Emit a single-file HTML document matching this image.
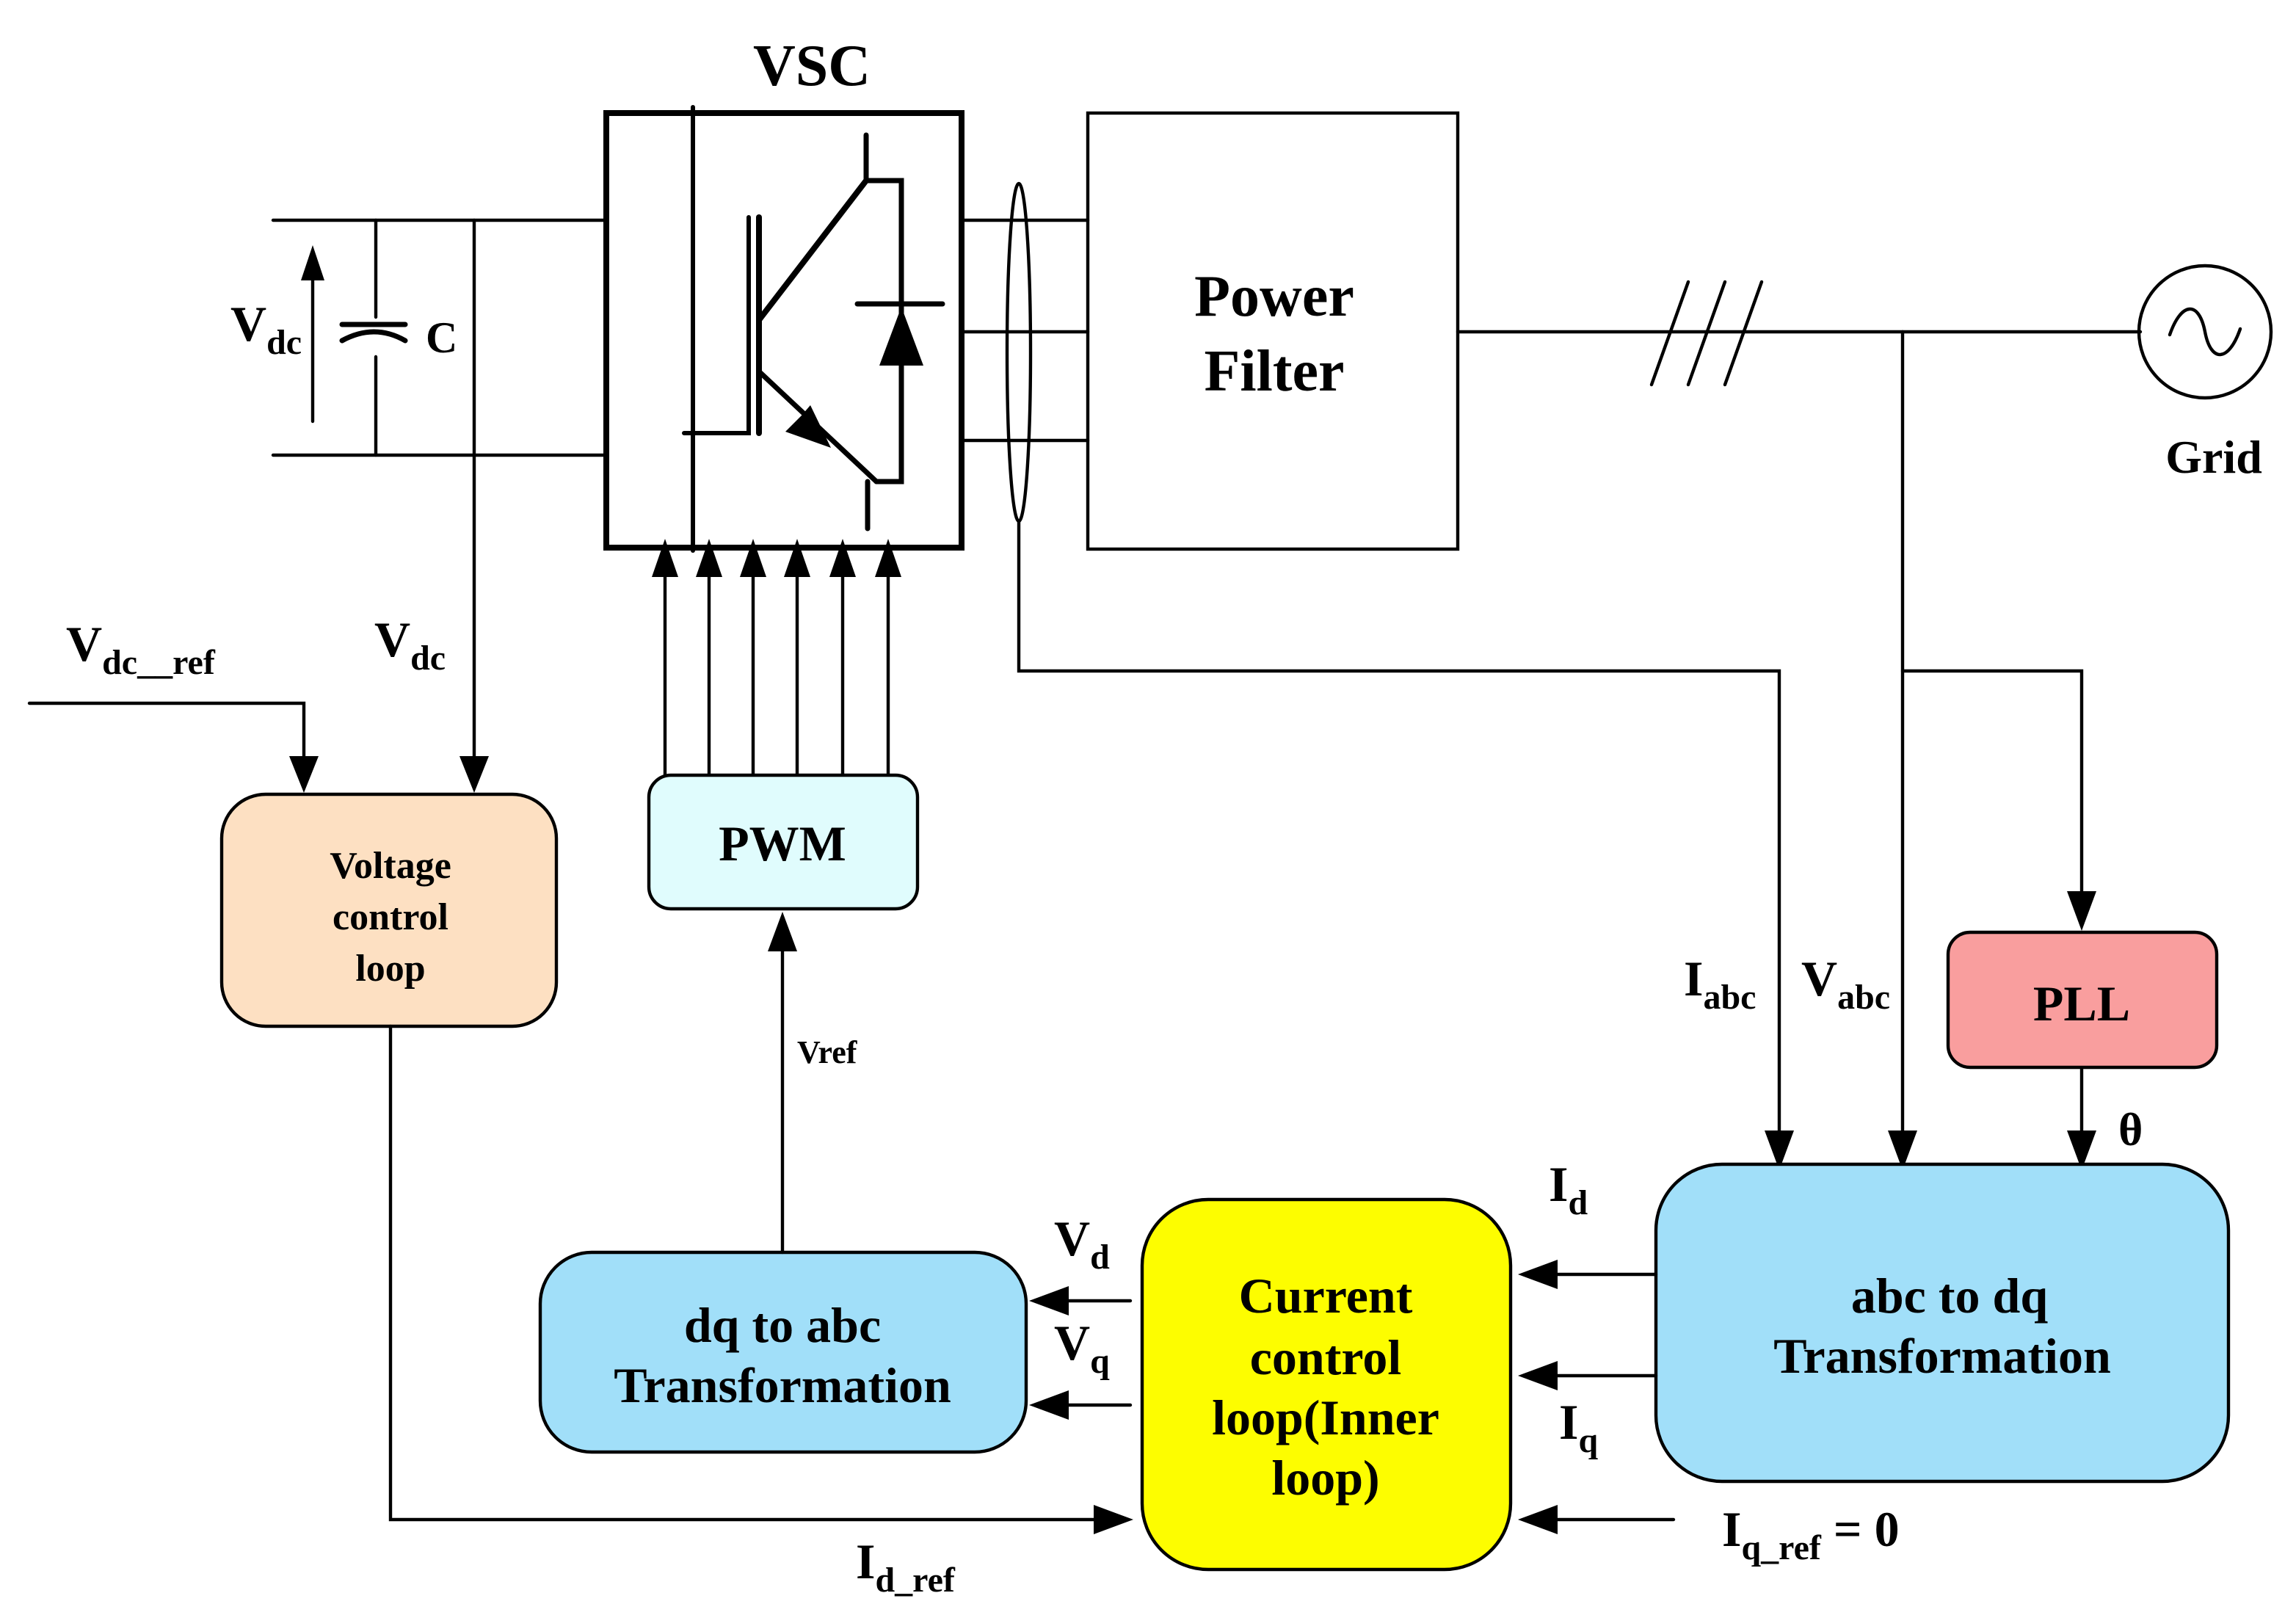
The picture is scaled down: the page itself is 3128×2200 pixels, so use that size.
<!DOCTYPE html>
<html><head><meta charset="utf-8"><style>html,body{margin:0;padding:0;background:#fff}svg{display:block}</style></head>
<body>
<svg width="3128" height="2200" viewBox="0 0 1564 1100" xmlns="http://www.w3.org/2000/svg">
<defs>
<marker id="a" viewBox="0 0 10 10" refX="10" refY="5" markerWidth="10" markerHeight="10" markerUnits="userSpaceOnUse" orient="auto"><path d="M0,0 L10,5 L0,10 z" fill="#000"/></marker>
</defs>
<g fill="none" stroke="#000" stroke-width="2.2" stroke-linecap="round">
<!-- DC side -->
<line x1="186" y1="150" x2="413" y2="150"/>
<line x1="186" y1="310" x2="413" y2="310"/>
<line x1="256" y1="150" x2="256" y2="216"/>
<line x1="233" y1="221" x2="276" y2="221" stroke-width="3.5"/>
<path d="M233,232 Q255,220 276,232" stroke-width="3.5"/>
<line x1="256" y1="243" x2="256" y2="310"/>
<line x1="213" y1="287" x2="213" y2="190"/>
<path d="M213,167 L205,191 L221,191 z" fill="#000" stroke="none"/>
<!-- Vdc feedback -->
<path d="M323,150 V520"/>
<path d="M323,540 L313,515 L333,515 z" fill="#000" stroke="none"/>
<path d="M20,479 H207 V520"/>
<path d="M207,540 L197,515 L217,515 z" fill="#000" stroke="none"/>
<!-- VSC -->
<rect x="413" y="77" width="242" height="296" stroke-width="4" stroke-linecap="butt"/>
<line x1="472" y1="73" x2="472" y2="375" stroke-width="3"/>
<path d="M466,295 H510 V148" stroke-width="3"/>
<line x1="517" y1="148" x2="517" y2="295" stroke-width="4"/>
<path d="M517,218 L590,123" stroke-width="4"/>
<line x1="590" y1="92" x2="590" y2="123" stroke-width="3.5"/>
<path d="M590,123 H614 V328 H597" stroke-width="3.5"/>
<line x1="584" y1="207" x2="642" y2="207" stroke-width="3.5"/>
<path d="M614,209 L599,249 L629,249 z" fill="#000" stroke="none"/>
<path d="M517,253 L597,328" stroke-width="3.5"/>
<path d="M566,305 L535,294 L546,283 L 552,276 z" fill="#000" stroke="none"/>
<line x1="591" y1="328" x2="591" y2="360" stroke-width="3.5"/>
<!-- PWM arrows -->
<g>
<line x1="453" y1="528" x2="453" y2="390"/><line x1="483" y1="528" x2="483" y2="390"/><line x1="513" y1="528" x2="513" y2="390"/><line x1="543" y1="528" x2="543" y2="390"/><line x1="574" y1="528" x2="574" y2="390"/><line x1="605" y1="528" x2="605" y2="390"/>
</g>
<g fill="#000" stroke="none">
<path d="M453,367 L444,393 L462,393z"/><path d="M483,367 L474,393 L492,393z"/><path d="M513,367 L504,393 L522,393z"/><path d="M543,367 L534,393 L552,393z"/><path d="M574,367 L565,393 L583,393z"/><path d="M605,367 L596,393 L614,393z"/>
</g>
<!-- AC out -->
<line x1="655" y1="150" x2="741" y2="150"/>
<line x1="655" y1="226" x2="741" y2="226"/>
<line x1="655" y1="300" x2="741" y2="300"/>
<ellipse cx="694" cy="240" rx="8" ry="115"/>
<path d="M694,355 V457 H1212 V775"/>
<path d="M1212,797 L1202,770 L1222,770 z" fill="#000" stroke="none"/>
<rect x="741" y="77" width="252" height="297"/>
<line x1="993" y1="226" x2="1458" y2="226"/>
<line x1="1125" y1="262" x2="1150" y2="192"/>
<line x1="1150" y1="262" x2="1175" y2="192"/>
<line x1="1175" y1="262" x2="1200" y2="192"/>
<circle cx="1502" cy="226" r="45"/>
<path d="M1478,228 C1486,205 1498,205 1502,226 C1506,247 1518,247 1526,224"/>
<path d="M1296,226 V775"/>
<path d="M1296,797 L1286,770 L1306,770 z" fill="#000" stroke="none"/>
<path d="M1296,457 H1418 V612"/>
<path d="M1418,634 L1408,607 L1428,607 z" fill="#000" stroke="none"/>
<line x1="1418" y1="727" x2="1418" y2="775"/>
<path d="M1418,797 L1408,770 L1428,770 z" fill="#000" stroke="none"/>
<!-- Boxes -->
<rect x="151" y="541" width="228" height="158" rx="30" fill="#fde0c2"/>
<rect x="442" y="528" width="183" height="91" rx="15" fill="#e0fcfd"/>
<rect x="1327" y="635" width="183" height="92" rx="15" fill="#f99e9e"/>
<rect x="1128" y="793" width="390" height="216" rx="45" fill="#a1dff9"/>
<rect x="778" y="817" width="251" height="252" rx="45" fill="#fdfd00"/>
<rect x="368" y="853" width="331" height="136" rx="35" fill="#a1dff9"/>
<!-- Vref -->
<line x1="533" y1="853" x2="533" y2="645"/>
<path d="M533,621 L523,648 L543,648 z" fill="#000" stroke="none"/>
<!-- Id_ref -->
<path d="M266,699 V1035 H750"/>
<path d="M772,1035 L745,1025 L745,1045 z" fill="#000" stroke="none"/>
<!-- abc->current -->
<line x1="1128" y1="868" x2="1058" y2="868"/>
<path d="M1034,868 L1061,858 L1061,878 z" fill="#000" stroke="none"/>
<line x1="1128" y1="937" x2="1058" y2="937"/>
<path d="M1034,937 L1061,927 L1061,947 z" fill="#000" stroke="none"/>
<line x1="1140" y1="1035" x2="1058" y2="1035"/>
<path d="M1034,1035 L1061,1025 L1061,1045 z" fill="#000" stroke="none"/>
<!-- current->dq -->
<line x1="770" y1="886" x2="725" y2="886"/>
<path d="M701,886 L728,876 L728,896 z" fill="#000" stroke="none"/>
<line x1="770" y1="957" x2="725" y2="957"/>
<path d="M701,957 L728,947 L728,967 z" fill="#000" stroke="none"/>
</g>
<g font-family="'Liberation Serif', 'DejaVu Serif', serif" font-weight="bold" fill="#000">
<text x="553" y="58" font-size="40" text-anchor="middle">VSC</text>
<text x="868" y="215" font-size="40" text-anchor="middle">Power</text>
<text x="868" y="266" font-size="40" text-anchor="middle">Filter</text>
<text x="1508" y="322" font-size="32" text-anchor="middle">Grid</text>
<text x="157" y="232" font-size="34">V<tspan font-size="24" dy="9">dc</tspan></text>
<text x="290" y="240" font-size="30">C</text>
<text x="45" y="450" font-size="34">V<tspan font-size="24" dy="9">dc__ref</tspan></text>
<text x="255" y="447" font-size="34">V<tspan font-size="24" dy="9">dc</tspan></text>
<text x="266" y="598" font-size="26" text-anchor="middle">Voltage</text>
<text x="266" y="633" font-size="26" text-anchor="middle">control</text>
<text x="266" y="668" font-size="26" text-anchor="middle">loop</text>
<text x="533" y="586" font-size="34" text-anchor="middle">PWM</text>
<text x="543" y="724" font-size="22">Vref</text>
<text x="1418" y="695" font-size="34" text-anchor="middle">PLL</text>
<text x="1147" y="678" font-size="34">I<tspan font-size="24" dy="9">abc</tspan></text>
<text x="1227" y="678" font-size="34">V<tspan font-size="24" dy="9">abc</tspan></text>
<text x="1443" y="780" font-size="32">θ</text>
<text x="1328" y="894" font-size="34" text-anchor="middle">abc to dq</text>
<text x="1323" y="935" font-size="34" text-anchor="middle">Transformation</text>
<text x="903" y="894" font-size="34" text-anchor="middle">Current</text>
<text x="903" y="936" font-size="34" text-anchor="middle">control</text>
<text x="903" y="977" font-size="34" text-anchor="middle">loop(Inner</text>
<text x="903" y="1018" font-size="34" text-anchor="middle">loop)</text>
<text x="533" y="914" font-size="34" text-anchor="middle">dq  to abc</text>
<text x="533" y="955" font-size="34" text-anchor="middle">Transformation</text>
<text x="1055" y="818" font-size="34">I<tspan font-size="24" dy="9">d</tspan></text>
<text x="1062" y="980" font-size="34">I<tspan font-size="24" dy="9">q</tspan></text>
<text x="1173" y="1053" font-size="34">I<tspan font-size="24" dy="9">q_ref</tspan><tspan dy="-9"> = 0</tspan></text>
<text x="583" y="1075" font-size="34">I<tspan font-size="24" dy="9">d_ref</tspan></text>
<text x="718" y="855" font-size="34">V<tspan font-size="24" dy="9">d</tspan></text>
<text x="718" y="926" font-size="34">V<tspan font-size="24" dy="9">q</tspan></text>
</g>
</svg>
</body></html>
